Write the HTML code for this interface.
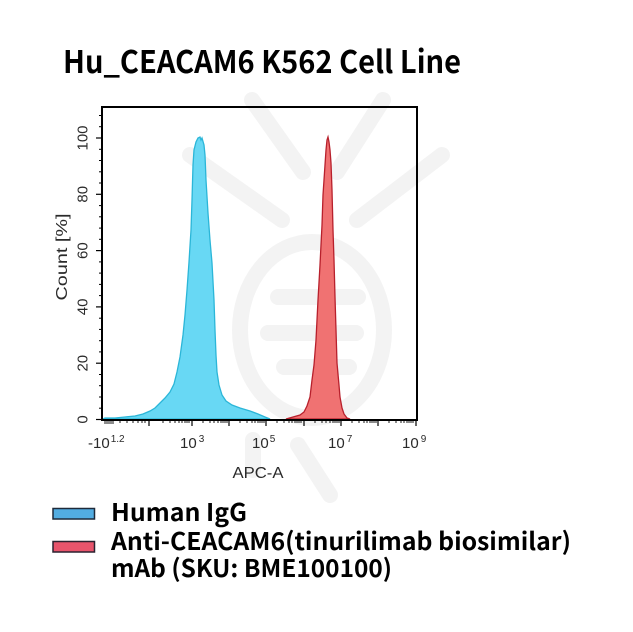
<!DOCTYPE html>
<html><head><meta charset="utf-8"><style>
html,body{margin:0;padding:0;background:#fff;}
svg{display:block;}
</style></head><body>
<svg width="633" height="632" viewBox="0 0 633 632" xmlns="http://www.w3.org/2000/svg">
<rect width="633" height="632" fill="#fff"/>
<!-- watermark -->
<g stroke="#f3f3f3" stroke-width="16" stroke-linecap="round" fill="none">
<line x1="252" y1="100" x2="303" y2="172"/>
<line x1="383" y1="100" x2="337" y2="172"/>
<line x1="190" y1="155" x2="282" y2="220"/>
<line x1="442" y1="155" x2="357" y2="220"/>
<ellipse cx="312" cy="330" rx="72" ry="88"/>
<line x1="278" y1="297" x2="358" y2="297"/>
<line x1="268" y1="333" x2="356" y2="333"/>
<line x1="284" y1="367" x2="349" y2="367"/>
<line x1="253" y1="440" x2="253" y2="470"/>
<line x1="298" y1="445" x2="330" y2="495"/>
</g>
<!-- curves -->
<path d="M103,419 L105,418 L115,418 L125,417 L135,416 L143,414 L150,411 L155,408 L160,403 L165,398 L170,392 L174,384 L177,372 L180,357 L183,335 L185,315 L187,290 L189,262 L191,230 L192,200 L193,165 L194,150 L196,142 L198,138 L200,137 L201,140 L202,138 L204,145 L205,155 L206,180 L208,213 L210,240 L212,263 L214,300 L215,330 L216,355 L217,372 L219,385 L222,395 L226,401 L232,405 L240,408 L250,411 L258,414 L265,417 L270,419 Z" fill="#68d8f4" stroke="#2bb6d8" stroke-width="1.3"/>
<path d="M286,419 L293,417 L300,415 L304,412 L307,406 L310,397 L312,380 L314,365 L316,340 L318,300 L320,265 L322,225 L323,195 L325,165 L326,150 L327,140 L328,137 L329,142 L330,150 L331,163 L332,190 L333,230 L334,260 L335,297 L336,330 L337,363 L339,385 L340,397 L342,408 L344,414 L347,418 L350,419 Z" fill="#f07272" stroke="#b8202c" stroke-width="1.3"/>
<!-- frame -->
<rect x="102" y="107" width="315" height="313" fill="none" stroke="#000" stroke-width="2"/>
<!-- y ticks -->
<g stroke="#000" stroke-width="1.2">
<line x1="96" y1="419.5" x2="102" y2="419.5"/>
<line x1="96" y1="363.2" x2="102" y2="363.2"/>
<line x1="96" y1="306.9" x2="102" y2="306.9"/>
<line x1="96" y1="250.6" x2="102" y2="250.6"/>
<line x1="96" y1="194.3" x2="102" y2="194.3"/>
<line x1="96" y1="138" x2="102" y2="138"/>
<g stroke-width="1">
<line x1="99" y1="408.2" x2="102" y2="408.2"/><line x1="99" y1="397" x2="102" y2="397"/><line x1="99" y1="385.7" x2="102" y2="385.7"/><line x1="99" y1="374.5" x2="102" y2="374.5"/>
<line x1="99" y1="351.9" x2="102" y2="351.9"/><line x1="99" y1="340.7" x2="102" y2="340.7"/><line x1="99" y1="329.4" x2="102" y2="329.4"/><line x1="99" y1="318.2" x2="102" y2="318.2"/>
<line x1="99" y1="295.6" x2="102" y2="295.6"/><line x1="99" y1="284.4" x2="102" y2="284.4"/><line x1="99" y1="273.1" x2="102" y2="273.1"/><line x1="99" y1="261.9" x2="102" y2="261.9"/>
<line x1="99" y1="239.3" x2="102" y2="239.3"/><line x1="99" y1="228.1" x2="102" y2="228.1"/><line x1="99" y1="216.8" x2="102" y2="216.8"/><line x1="99" y1="205.6" x2="102" y2="205.6"/>
<line x1="99" y1="183" x2="102" y2="183"/><line x1="99" y1="171.8" x2="102" y2="171.8"/><line x1="99" y1="160.5" x2="102" y2="160.5"/><line x1="99" y1="149.3" x2="102" y2="149.3"/>
<line x1="99" y1="126.7" x2="102" y2="126.7"/><line x1="99" y1="115.5" x2="102" y2="115.5"/>
</g>
</g>
<!-- x ticks -->
<g stroke="#000" stroke-width="1.2">
<line x1="149" y1="420" x2="149" y2="426"/>
<line x1="192" y1="420" x2="192" y2="426"/>
<line x1="229" y1="420" x2="229" y2="426"/>
<line x1="266" y1="420" x2="266" y2="426"/>
<line x1="304" y1="420" x2="304" y2="426"/>
<line x1="341" y1="420" x2="341" y2="426"/>
<line x1="378" y1="420" x2="378" y2="426"/>
<line x1="416" y1="420" x2="416" y2="426"/>
</g>
<g stroke="#000" stroke-width="0.9">
<line x1="105" y1="420" x2="105" y2="424"/><line x1="107" y1="420" x2="107" y2="424"/><line x1="109" y1="420" x2="109" y2="424"/><line x1="111" y1="420" x2="111" y2="424"/><line x1="113" y1="420" x2="113" y2="424"/>
<line x1="120" y1="420" x2="120" y2="423"/><line x1="127" y1="420" x2="127" y2="423"/><line x1="133" y1="420" x2="133" y2="423"/><line x1="138" y1="420" x2="138" y2="423"/><line x1="142" y1="420" x2="142" y2="423"/><line x1="145" y1="420" x2="145" y2="423"/>
<line x1="163" y1="420" x2="163" y2="423"/><line x1="170" y1="420" x2="170" y2="423"/><line x1="175" y1="420" x2="175" y2="423"/><line x1="179" y1="420" x2="179" y2="423"/><line x1="182" y1="420" x2="182" y2="423"/><line x1="185" y1="420" x2="185" y2="423"/><line x1="187" y1="420" x2="187" y2="423"/><line x1="189" y1="420" x2="189" y2="423"/>
<line x1="203" y1="420" x2="203" y2="423"/><line x1="210" y1="420" x2="210" y2="423"/><line x1="214" y1="420" x2="214" y2="423"/><line x1="218" y1="420" x2="218" y2="423"/><line x1="221" y1="420" x2="221" y2="423"/><line x1="223" y1="420" x2="223" y2="423"/><line x1="225" y1="420" x2="225" y2="423"/><line x1="227" y1="420" x2="227" y2="423"/>
<line x1="240" y1="420" x2="240" y2="423"/><line x1="247" y1="420" x2="247" y2="423"/><line x1="252" y1="420" x2="252" y2="423"/><line x1="255" y1="420" x2="255" y2="423"/><line x1="258" y1="420" x2="258" y2="423"/><line x1="260" y1="420" x2="260" y2="423"/><line x1="262" y1="420" x2="262" y2="423"/><line x1="264" y1="420" x2="264" y2="423"/>
<line x1="277" y1="420" x2="277" y2="423"/><line x1="284" y1="420" x2="284" y2="423"/><line x1="289" y1="420" x2="289" y2="423"/><line x1="292" y1="420" x2="292" y2="423"/><line x1="295" y1="420" x2="295" y2="423"/><line x1="297" y1="420" x2="297" y2="423"/><line x1="299" y1="420" x2="299" y2="423"/><line x1="301" y1="420" x2="301" y2="423"/>
<line x1="315" y1="420" x2="315" y2="423"/><line x1="322" y1="420" x2="322" y2="423"/><line x1="326" y1="420" x2="326" y2="423"/><line x1="330" y1="420" x2="330" y2="423"/><line x1="333" y1="420" x2="333" y2="423"/><line x1="335" y1="420" x2="335" y2="423"/><line x1="337" y1="420" x2="337" y2="423"/><line x1="339" y1="420" x2="339" y2="423"/>
<line x1="352" y1="420" x2="352" y2="423"/><line x1="359" y1="420" x2="359" y2="423"/><line x1="364" y1="420" x2="364" y2="423"/><line x1="367" y1="420" x2="367" y2="423"/><line x1="370" y1="420" x2="370" y2="423"/><line x1="372" y1="420" x2="372" y2="423"/><line x1="374" y1="420" x2="374" y2="423"/><line x1="376" y1="420" x2="376" y2="423"/>
<line x1="389" y1="420" x2="389" y2="423"/><line x1="396" y1="420" x2="396" y2="423"/><line x1="401" y1="420" x2="401" y2="423"/><line x1="404" y1="420" x2="404" y2="423"/><line x1="407" y1="420" x2="407" y2="423"/><line x1="409" y1="420" x2="409" y2="423"/><line x1="411" y1="420" x2="411" y2="423"/><line x1="413" y1="420" x2="413" y2="423"/>
</g>
<!-- y labels -->
<g font-family="Liberation Sans, Arial, sans-serif" font-size="15" fill="#2a2a2a" text-anchor="middle">
<text transform="translate(87.5,419.5) rotate(-90)">0</text>
<text transform="translate(87.5,363.2) rotate(-90)">20</text>
<text transform="translate(87.5,306.9) rotate(-90)">40</text>
<text transform="translate(87.5,250.6) rotate(-90)">60</text>
<text transform="translate(87.5,194.3) rotate(-90)">80</text>
<text transform="translate(87.5,138) rotate(-90)">100</text>
<text transform="translate(67,257) rotate(-90)" font-size="16" textLength="87" lengthAdjust="spacingAndGlyphs">Count [%]</text>
</g>
<!-- x labels -->
<g font-family="Liberation Sans, Arial, sans-serif" font-size="15" fill="#2a2a2a">
<text x="88" y="448">-10<tspan font-size="10" dx="1" dy="-6">1.2</tspan></text>
<text x="180" y="448">10<tspan font-size="10" dx="2" dy="-6">3</tspan></text>
<text x="252" y="448">10<tspan font-size="10" dx="1" dy="-6">5</tspan></text>
<text x="328" y="448">10<tspan font-size="10" dx="2" dy="-6">7</tspan></text>
<text x="402" y="448">10<tspan font-size="10" dx="2" dy="-6">9</tspan></text>
<text x="258" y="478" font-size="16" text-anchor="middle" textLength="51" lengthAdjust="spacingAndGlyphs">APC-A</text>
</g>
<!-- title -->
<text x="63" y="73" font-family="Noto Sans CJK SC, Liberation Sans, sans-serif" font-weight="700" font-size="31" fill="#000" textLength="398" lengthAdjust="spacingAndGlyphs">Hu_CEACAM6 K562 Cell Line</text>
<!-- legend -->
<rect x="53" y="508.5" width="41.5" height="10.5" fill="#52ade2" stroke="#1e2a3a" stroke-width="1.5"/>
<rect x="53" y="541.5" width="41.5" height="10.5" fill="#e8546c" stroke="#2a2230" stroke-width="1.5"/>
<g font-family="Noto Sans CJK SC, Liberation Sans, sans-serif" font-weight="700" font-size="24.5" fill="#000">
<text x="111" y="521" textLength="136" lengthAdjust="spacingAndGlyphs">Human IgG</text>
<text x="111" y="550" textLength="460" lengthAdjust="spacingAndGlyphs">Anti-CEACAM6(tinurilimab biosimilar)</text>
<text x="111" y="577" textLength="281" lengthAdjust="spacingAndGlyphs">mAb (SKU: BME100100)</text>
</g>
</svg>
</body></html>
